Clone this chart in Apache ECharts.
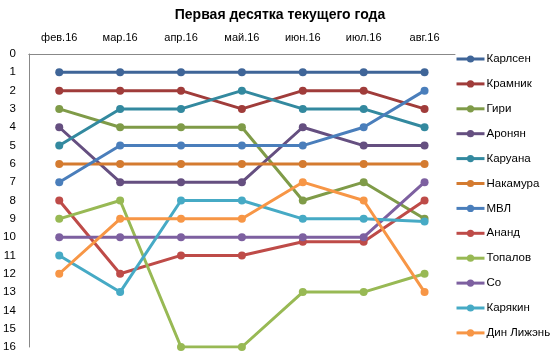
<!DOCTYPE html>
<html><head><meta charset="utf-8">
<script src="https://cdn.jsdelivr.net/npm/echarts@6/dist/echarts.min.js"></script>
<style>html,body{margin:0;padding:0;background:#fff}#c{width:560px;height:363px}</style>
</head><body><div id="c"></div>
<script>
var months = ['фев.16','мар.16','апр.16','май.16','июн.16','июл.16','авг.16'];
var yTicks = [0,1,2,3,4,5,6,7,8,9,10,11,12,13,14,15,16];
var names = ['Карлсен','Крамник','Гири','Аронян','Каруана','Накамура','МВЛ','Ананд','Топалов','Со','Карякин','Дин Лижэнь'];
var carlsen  = [1,1,1,1,1,1,1];
var kramnik  = [2,2,2,3,2,2,3];
var giri     = [3,4,4,4,8,7,9];
var aronian  = [4,7,7,7,4,5,5];
var caruana  = [5,3,3,2,3,3,4];
var nakamura = [6,6,6,6,6,6,6];
var mvl      = [7,5,5,5,5,4,2];
var anand    = [8,12,11,11,10.25,10.25,8];
var topalov  = [9,8,16,16,13,13,12];
var so       = [10,10,10,10,10,10,7];
var karjakin = [11,13,8,8,9,9,9.15];
var ding     = [12,9,9,9,7,8,13];
var values = [carlsen,kramnik,giri,aronian,caruana,nakamura,mvl,anand,topalov,so,karjakin,ding];
var colors = ['#3F6598','#A03C3A','#7F9B48','#654F80','#33899F','#D47B30','#4A7EBB','#BE4B48','#98B954','#7D60A0','#46AAC5','#F79646'];

var FONT = 'Liberation Sans';
var series = names.map(function(n,i){
  return {
    name: n, type: 'line', data: values[i],
    symbol: 'circle', symbolSize: 8,
    lineStyle: {width: 3, color: colors[i]},
    itemStyle: {color: colors[i]},
    emphasis: {disabled: true},
    animation: false
  };
});
var chart = echarts.init(document.getElementById('c'), null, {renderer:'canvas'});
chart.setOption({
  animation: false,
  color: colors,
  title: {text: 'Первая десятка текущего года', left: 'center', top: 3,
    textStyle: {fontFamily: FONT, fontSize: 14, fontWeight: 'bold', color: '#000'}},
  legend: {
    orient: 'vertical', left: 455, top: 53, padding: 0,
    itemWidth: 28, itemHeight: 9, itemGap: 12.9,
    lineStyle: {width: 3},
    textStyle: {fontFamily: FONT, fontSize: 11.5, lineHeight: 12, color: '#000', padding: [0,0,0,-3]},
    data: names
  },
  grid: {left: 27, right: 105, top: 54, bottom: 16, containLabel: false},
  xAxis: {
    type: 'category', data: months, position: 'top', boundaryGap: true,
    axisLine: {lineStyle: {color: '#888', width: 1}},
    axisTick: {show: false},
    axisLabel: {fontFamily: FONT, fontSize: 11, color: '#000', margin: 11},
    splitLine: {show: false}
  },
  yAxis: {
    type: 'value', inverse: true, min: 0, max: 16, interval: 1,
    axisLine: {show: true, lineStyle: {color: '#888', width: 1}},
    axisTick: {show: false},
    axisLabel: {fontFamily: FONT, fontSize: 11.5, color: '#000', margin: 13,
      formatter: function(v){ return yTicks.indexOf(v) >= 0 ? String(v) : ''; }},
    splitLine: {show: false}
  },
  series: series
});
</script></body></html>
